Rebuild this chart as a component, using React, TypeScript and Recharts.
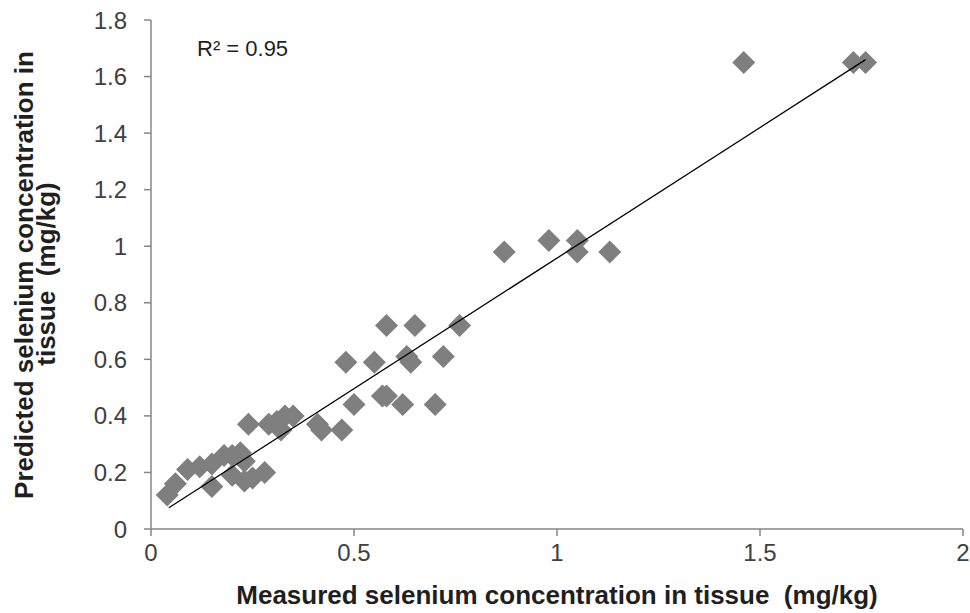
import { ScatterChart, Scatter, XAxis, YAxis } from "recharts"

// measured vs predicted selenium in tissue (mg/kg)
const measured = [
  0.04, 0.06, 0.09, 0.12, 0.15, 0.15, 0.18, 0.2, 0.22, 0.2, 0.23, 0.25, 0.23, 0.28,
  0.24, 0.29, 0.31, 0.32, 0.33, 0.35, 0.41, 0.42, 0.47, 0.48, 0.5, 0.55, 0.57, 0.58,
  0.58, 0.62, 0.63, 0.64, 0.65, 0.7, 0.72, 0.76, 0.87, 0.98, 1.05, 1.05, 1.13, 1.46,
  1.73, 1.76,
]
const predicted = [
  0.12, 0.16, 0.21, 0.22, 0.23, 0.15, 0.26, 0.26, 0.27, 0.19, 0.17, 0.18, 0.24, 0.2,
  0.37, 0.37, 0.38, 0.35, 0.4, 0.4, 0.37, 0.35, 0.35, 0.59, 0.44, 0.59, 0.47, 0.47,
  0.72, 0.44, 0.61, 0.59, 0.72, 0.44, 0.61, 0.72, 0.98, 1.02, 1.02, 0.98, 0.98, 1.65,
  1.65, 1.65,
]

// linear trendline ends
const trendX = [0.044, 1.76]
const trendY = [0.075, 1.66]

const xTicks = [0, 0.5, 1, 1.5, 2]
const yTicks = [0, 0.2, 0.4, 0.6, 0.8, 1, 1.2, 1.4, 1.6, 1.8]

const points = measured.map((x, i) => ({ x, y: predicted[i] }))
const trend = trendX.map((x, i) => ({ x, y: trendY[i] }))

const font = "'Liberation Sans', Arial, sans-serif"
const axisGray = "#868686"
const titleStyle = {
  fontFamily: font,
  fontWeight: 700,
  fontSize: 26,
  fill: "#1f1f1f",
  whiteSpace: "pre" as const,
}

function Diamond(props: any) {
  const { cx, cy } = props
  const r = 11.5
  return (
    <polygon
      points={`${cx},${cy - r} ${cx + r},${cy} ${cx},${cy + r} ${cx - r},${cy}`}
      fill="#7f7f7f"
    />
  )
}

function YTitle() {
  return (
    <g>
      <text transform="translate(33,275) rotate(-90)" textAnchor="middle" style={titleStyle}>
        Predicted selenium concentration in
      </text>
      <text transform="translate(55,274) rotate(-90)" textAnchor="middle" style={titleStyle}>
        {"tissue  (mg/kg)"}
      </text>
    </g>
  )
}

function XTitle() {
  return (
    <text x={557} y={604} textAnchor="middle" style={titleStyle}>
      {"Measured selenium concentration in tissue  (mg/kg)"}
    </text>
  )
}

export default function App() {
  const tick = { fontFamily: font, fontSize: 24, fill: "#404040" }
  return (
    <div style={{ position: "absolute", left: 0, top: 0, width: 970, height: 613, background: "#fff" }}>
      <ScatterChart width={970} height={613} margin={{ top: 20, right: 7, bottom: 0, left: 0 }}>
        <XAxis
          type="number"
          dataKey="x"
          domain={[0, 2]}
          ticks={xTicks}
          tickFormatter={(v) => String(v)}
          height={84}
          stroke={axisGray}
          strokeWidth={1.5}
          tickSize={7}
          tickMargin={8}
          tick={tick}
          label={{ content: () => <XTitle /> }}
        />
        <YAxis
          type="number"
          dataKey="y"
          domain={[0, 1.8]}
          ticks={yTicks}
          tickFormatter={(v) => String(v)}
          width={151}
          stroke={axisGray}
          strokeWidth={1.5}
          tickSize={7}
          tickMargin={17}
          tick={tick}
          label={{ content: () => <YTitle /> }}
        />
        <Scatter data={points} shape={<Diamond />} isAnimationActive={false} />
        <Scatter
          data={trend}
          line={{ stroke: "#000", strokeWidth: 1.3 }}
          shape={() => <g />}
          isAnimationActive={false}
        />
      </ScatterChart>
      <div
        style={{
          position: "absolute",
          left: 197,
          top: 36,
          fontFamily: font,
          fontSize: 22,
          color: "#1f1f1f",
          whiteSpace: "nowrap",
        }}
      >
        R² = 0.95
      </div>
    </div>
  )
}
